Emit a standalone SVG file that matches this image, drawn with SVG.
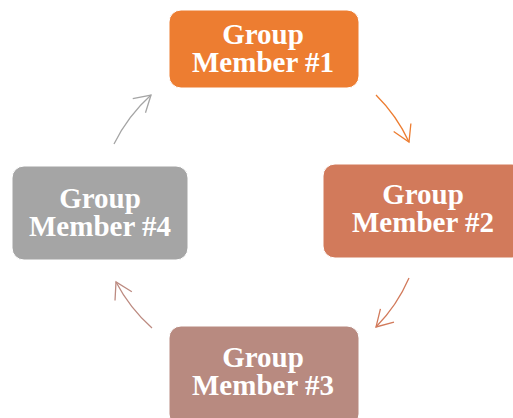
<svg xmlns="http://www.w3.org/2000/svg" width="513" height="418" viewBox="0 0 513 418">
  <style>
    .box { stroke: #ffffff; stroke-width: 1; }
    .label { font-family: "Liberation Serif", "Times New Roman", serif; font-weight: bold; font-size: 29px; fill: #ffffff; text-anchor: middle; }
    .link { fill: none; stroke-width: 1.3; }
  </style>
  <defs>
    <marker id="head-orange" markerUnits="userSpaceOnUse" markerWidth="24" markerHeight="24" viewBox="-20 -12 24 24" refX="0" refY="0" orient="auto">
      <path d="M -16 -9.5 L 0 0 L -16 9.5" fill="none" stroke="#ED7D31" stroke-width="1.3"/>
    </marker>
    <marker id="head-rust" markerUnits="userSpaceOnUse" markerWidth="24" markerHeight="24" viewBox="-20 -12 24 24" refX="0" refY="0" orient="auto">
      <path d="M -16 -9.5 L 0 0 L -16 9.5" fill="none" stroke="#D27A5B" stroke-width="1.3"/>
    </marker>
    <marker id="head-rose" markerUnits="userSpaceOnUse" markerWidth="24" markerHeight="24" viewBox="-20 -12 24 24" refX="0" refY="0" orient="auto">
      <path d="M -16 -9.5 L 0 0 L -16 9.5" fill="none" stroke="#BC8A80" stroke-width="1.3"/>
    </marker>
    <marker id="head-gray" markerUnits="userSpaceOnUse" markerWidth="24" markerHeight="24" viewBox="-20 -12 24 24" refX="0" refY="0" orient="auto">
      <path d="M -16 -9.5 L 0 0 L -16 9.5" fill="none" stroke="#A5A5A5" stroke-width="1.3"/>
    </marker>
  </defs>

  <!-- cycle arrows between members -->
  <g id="connectors">
    <path class="link" stroke="#ED7D31" marker-end="url(#head-orange)" d="M 376 95 A 162 162 0 0 1 409 142"/>
    <path class="link" stroke="#D27A5B" marker-end="url(#head-rust)" d="M 409 278 A 162 162 0 0 1 376 327"/>
    <path class="link" stroke="#BC8A80" marker-end="url(#head-rose)" d="M 152 328 A 162 162 0 0 1 116 282"/>
    <path class="link" stroke="#A5A5A5" marker-end="url(#head-gray)" d="M 114 144 A 162 162 0 0 1 151 95"/>
  </g>

  <g id="member1">
    <rect class="box" x="169" y="10" width="190" height="78" rx="12" fill="#ED7D31"/>
    <text class="label" x="263" y="44">Group<tspan x="263" dy="28">Member #1</tspan></text>
  </g>

  <g id="member2">
    <rect class="box" x="323" y="164" width="201" height="94" rx="12" fill="#D27A5B"/>
    <text class="label" x="423" y="204">Group<tspan x="423" dy="28">Member #2</tspan></text>
  </g>

  <g id="member3">
    <rect class="box" x="169" y="326" width="190" height="100" rx="12" fill="#B88A80"/>
    <text class="label" x="263" y="367">Group<tspan x="263" dy="28">Member #3</tspan></text>
  </g>

  <g id="member4">
    <rect class="box" x="12" y="166" width="176" height="94" rx="12" fill="#A5A5A5"/>
    <text class="label" x="100" y="208">Group<tspan x="100" dy="28">Member #4</tspan></text>
  </g>
</svg>
